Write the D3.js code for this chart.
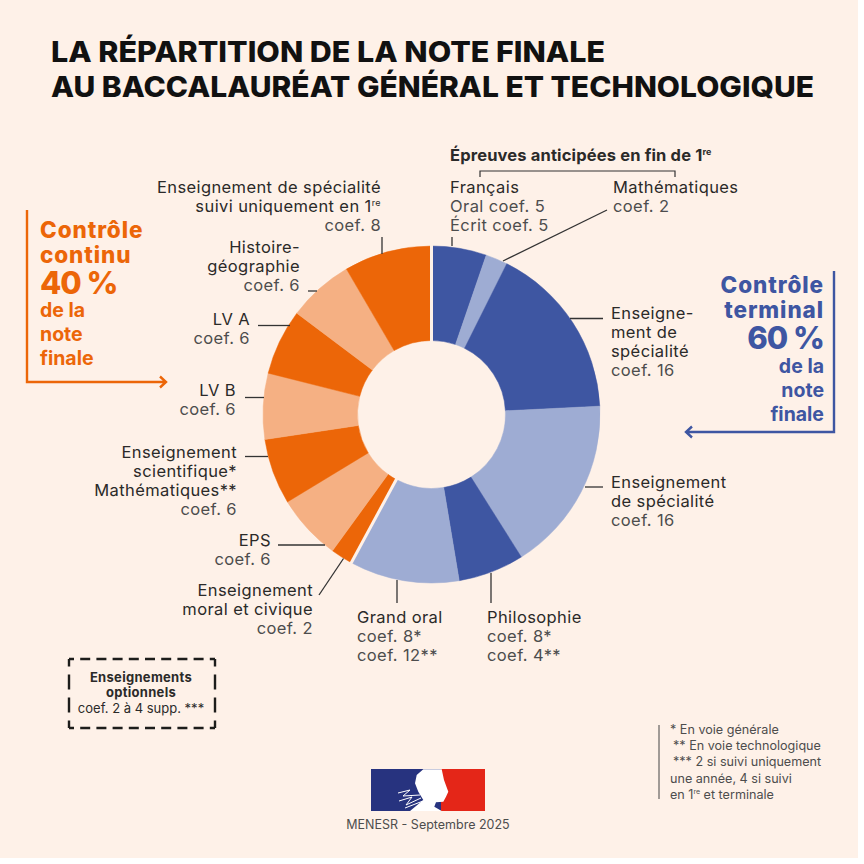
<!DOCTYPE html>
<html>
<head>
<meta charset="utf-8">
<script src="https://cdn.jsdelivr.net/npm/d3@7"></script>
<style>
  html, body { margin: 0; padding: 0; background: #fff; }
  svg { display: block; }
  text { font-family: "Inter", sans-serif; }
</style>
</head>
<body>
<div id="chart"></div>
<script>
var width = 864, height = 864;

// coefficients, clockwise from the top
var subjects = ['Français', 'Mathématiques', 'Enseignement de spécialité', 'Enseignement de spécialité',
  'Philosophie', 'Grand oral', 'Enseignement moral et civique', 'EPS', 'Enseignement scientifique',
  'LV B', 'LV A', 'Histoire-géographie', 'Enseignement de spécialité 1re'];
var coefs = [5, 2, 16, 16, 6, 10, 2, 6, 6, 6, 6, 6, 8];
var shades = ['dark', 'light', 'dark', 'light', 'dark', 'light', 'orange', 'peach', 'orange', 'peach', 'orange', 'peach', 'orange'];
var shadeNames = ['dark', 'light', 'orange', 'peach'];
var shadeColors = ['#3e56a2', '#9eacd3', '#ec6608', '#f5b083'];

var bg = '#fef1e8', ink = '#2b2a29', grey = '#4d4d4d', orange = '#ec6608', blue = '#3e56a2';

var svg = d3.select('#chart').append('svg').attr('width', width).attr('height', height);

svg.append('rect').attr('width', 858).attr('height', 858).attr('fill', bg);

var color = d3.scaleOrdinal().domain(shadeNames).range(shadeColors);
var cx = 431.5, cy = 414.5, outer = 168.5, inner = 74;

var pie = d3.pie().sort(null).value(function (d) { return d; });
var arc = d3.arc().innerRadius(inner).outerRadius(outer);
var arcs = pie(coefs);

var donut = svg.append('g').attr('transform', 'translate(' + cx + ',' + cy + ')');
donut.selectAll('path.slice').
data(arcs).
enter().
append('path').
attr('class', 'slice').
attr('d', arc).
attr('fill', function (d, i) { return color(shades[i]); }).
attr('stroke', function (d, i) { return color(shades[i]); }).
attr('stroke-width', 0.5);

// the two gaps: top of the ring and between EMC and Grand oral
[arcs[0].startAngle, arcs[6].startAngle].forEach(function (a) {
  var p0 = d3.pointRadial(a, inner - 2), p1 = d3.pointRadial(a, outer + 2);
  donut.append('line').
  attr('x1', p0[0]).attr('y1', p0[1]).
  attr('x2', p1[0]).attr('y2', p1[1]).
  attr('stroke', bg).
  attr('stroke-width', 3);
});

// title
var title = ['LA RÉPARTITION DE LA NOTE FINALE', 'AU BACCALAURÉAT GÉNÉRAL ET TECHNOLOGIQUE'];
svg.selectAll('text.title').
data(title).
enter().
append('text').
attr('class', 'title').
attr('x', 51).
attr('y', function (d, i) { return 62 + i * 35; }).
attr('font-size', 28.5).
attr('font-weight', 800).
attr('textLength', function (d, i) { return i ? 763 : 554; }).
attr('lengthAdjust', 'spacingAndGlyphs').
attr('fill', '#111').
text(function (d) { return d; });

// names are in the dark ink, the coef lines in grey
function label(x, y, anchor, names, details) {
  var t = svg.append('g');
  names.concat(details).forEach(function (line, i) {
    var el = t.append('text').
    attr('x', x).
    attr('y', y + i * 19).
    attr('text-anchor', anchor).
    attr('font-size', 16.5).
    attr('letter-spacing', 0.4).
    attr('fill', i < names.length ? ink : grey).
    text(line.replace('^re', ''));
    if (line.indexOf('^re') >= 0) {
      el.append('tspan').attr('font-size', 9).attr('dy', -6).text('re');
    }
  });
}

label(450, 193, 'start', ['Français'], ['Oral coef. 5', 'Écrit coef. 5']);
label(613, 193, 'start', ['Mathématiques'], ['coef. 2']);
label(611, 319, 'start', ['Enseigne-', 'ment de', 'spécialité'], ['coef. 16']);
label(611, 488, 'start', ['Enseignement', 'de spécialité'], ['coef. 16']);
label(487, 623, 'start', ['Philosophie'], ['coef. 8*', 'coef. 4**']);
label(357, 623, 'start', ['Grand oral'], ['coef. 8*', 'coef. 12**']);
label(313, 596, 'end', ['Enseignement', 'moral et civique'], ['coef. 2']);
label(271, 546, 'end', ['EPS'], ['coef. 6']);
label(237, 458, 'end', ['Enseignement', 'scientifique*', 'Mathématiques**'], ['coef. 6']);
label(236, 396, 'end', ['LV B'], ['coef. 6']);
label(250, 325, 'end', ['LV A'], ['coef. 6']);
label(300, 253, 'end', ['Histoire-', 'géographie'], ['coef. 6']);
label(381, 193, 'end', ['Enseignement de spécialité', 'suivi uniquement en 1^re'], ['coef. 8']);

// leader lines
var leaders = [
  [452, 237, 452, 246], [607, 210, 503, 261], [570, 318.5, 603, 318.5], [585, 487, 603, 487],
  [491, 573, 491, 603], [397, 580, 397, 603], [343.5, 558.5, 319, 595], [278, 545, 325, 545],
  [245, 456.5, 268, 456.5], [245, 397.5, 264, 397.5], [258, 325.5, 290, 325.5], [308, 291, 317, 291],
  [382, 237, 382, 254]
];
svg.selectAll('line.leader').
data(leaders).
enter().
append('line').
attr('class', 'leader').
attr('x1', function (d) { return d[0]; }).
attr('y1', function (d) { return d[1]; }).
attr('x2', function (d) { return d[2]; }).
attr('y2', function (d) { return d[3]; }).
attr('stroke', '#333').
attr('stroke-width', 1.3);

// bracket above the anticipated exams
svg.append('text').attr('x', 450).attr('y', 161).attr('font-size', 16.5).attr('letter-spacing', 0.15).attr('font-weight', 700).attr('fill', ink).
text('Épreuves anticipées en fin de 1').
append('tspan').attr('font-size', 9).attr('dy', -6).text('re');
svg.append('path').attr('d', 'M480,177V171H675V177').attr('fill', 'none').attr('stroke', '#333').attr('stroke-width', 1.2);

// side blocks
function block(x, anchor, col, lines) {
  lines.forEach(function (l) {
    svg.append('text').attr('x', x).attr('y', l[1]).attr('text-anchor', anchor).
    attr('font-size', l[2]).attr('font-weight', l[3]).attr('letter-spacing', l[4]).attr('fill', col).text(l[0]);
  });
}
block(40, 'start', orange, [['Contrôle', 238, 22.5, 800, 0.9], ['continu', 262.5, 22.5, 800, 0.9], ['40 %', 294, 31, 800, -1],
  ['de la', 317, 19.5, 700, 0], ['note', 341, 19.5, 700, 0], ['finale', 364.5, 19.5, 700, 0]]);
block(824, 'end', blue, [['Contrôle', 293, 22.5, 800, 0.9], ['terminal', 318, 22.5, 800, 0.9], ['60 %', 349, 31, 800, -1],
  ['de la', 373, 19.5, 700, 0], ['note', 397, 19.5, 700, 0], ['finale', 420.5, 19.5, 700, 0]]);

svg.append('path').attr('d', 'M27,210V382H166M160,376.5L166,382L160,387.5').attr('fill', 'none').attr('stroke', orange).attr('stroke-width', 2.4);
svg.append('path').attr('d', 'M834,271V432H686M692,426.5L686,432L692,437.5').attr('fill', 'none').attr('stroke', blue).attr('stroke-width', 2.4);

// optional box: each side dashed so that the corners stay solid
var boxSides = [[69, 659, 215, 659, 16.2, 10], [69, 728, 215, 728, 16.2, 10], [69, 659, 69, 728, 23, 15], [215, 659, 215, 728, 23, 15]];
boxSides.forEach(function (s) {
  svg.append('line').attr('x1', s[0]).attr('y1', s[1]).attr('x2', s[2]).attr('y2', s[3]).
  attr('stroke', '#1d1d1b').attr('stroke-width', 2.4).
  attr('stroke-dasharray', s[5] + ' ' + (s[4] - s[5])).
  attr('stroke-dashoffset', s[5] / 2);
});
['Enseignements', 'optionnels'].forEach(function (s, i) {
  svg.append('text').attr('x', 141).attr('y', 682 + i * 14.5).attr('text-anchor', 'middle').
  attr('font-size', 13).attr('letter-spacing', 0.3).attr('font-weight', 700).attr('fill', ink).text(s);
});
svg.append('text').attr('x', 141).attr('y', 713).attr('text-anchor', 'middle').attr('font-size', 13).attr('fill', ink).text('coef. 2 à 4 supp. ***');

// footnotes
svg.append('line').attr('x1', 659).attr('x2', 659).attr('y1', 725).attr('y2', 799).attr('stroke', '#444').attr('stroke-width', 1);
[['* En voie générale', 670], ['** En voie technologique', 673], ['*** 2 si suivi uniquement', 673], ['une année, 4 si suivi', 670]].forEach(function (n, i) {
  svg.append('text').attr('x', n[1]).attr('y', 734 + i * 16.2).attr('font-size', 12.6).attr('fill', grey).text(n[0]);
});
var last = svg.append('text').attr('x', 670).attr('y', 799).attr('font-size', 12.6).attr('fill', grey).text('en 1');
last.append('tspan').attr('font-size', 7).attr('dy', -5).text('re');
last.append('tspan').attr('dy', 5).text(' et terminale');

// flag
var flag = svg.append('g');
flag.append('rect').attr('x', 371).attr('y', 769).attr('width', 70).attr('height', 42).attr('fill', '#27337f');
flag.append('rect').attr('x', 441).attr('y', 769).attr('width', 44).attr('height', 42).attr('fill', '#e42618');
flag.append('path').
attr('d', 'M423.3,769.3L441.7,769.3L444,780L448.3,791.7L446,796.7L443.3,801.7L436,802.3L434.3,806.7L441.7,811L410,811L423.3,800L418.3,791.7L415,783.3L416.7,775Z').
attr('fill', '#fff');
flag.append('path').
attr('d', 'M398,793L410,790L403,796L420,795M399,801L412,797L406,805L421,798M405,808L423,801').
attr('fill', 'none').attr('stroke', '#fff').attr('stroke-width', 1);

svg.append('text').attr('x', 428).attr('y', 829).attr('text-anchor', 'middle').attr('font-size', 12.5).attr('fill', grey).text('MENESR - Septembre 2025');
</script>
</body>
</html>
